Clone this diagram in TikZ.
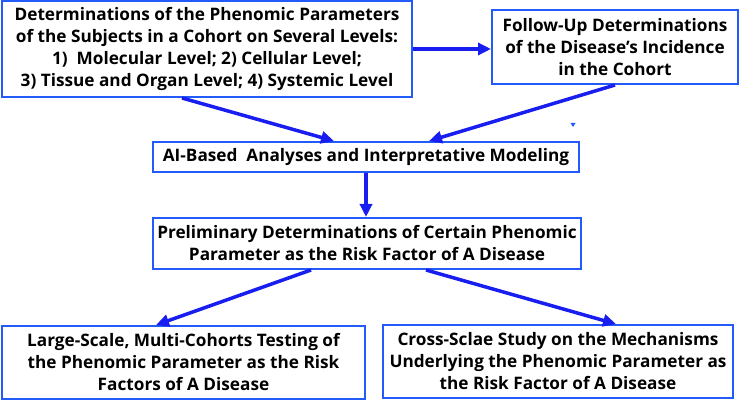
\documentclass[tikz,border=0pt]{standalone}
\usepackage{fontspec}
\setmainfont{Open Sans}
\usetikzlibrary{arrows.meta,calc}
\definecolor{boxblue}{RGB}{35,90,250}
\definecolor{arrblue}{RGB}{25,30,240}
\begin{document}
\begin{tikzpicture}[x=1pt,y=-1pt,
  box/.style={draw=boxblue,line width=2pt,fill=white,inner sep=0pt,align=center,
    font=\fontsize{17.2}{22}\selectfont\bfseries},
  arr/.style={draw=arrblue,line width=3.5pt,-{Triangle[length=13pt,width=12pt]}}]
\useasboundingbox (0,0) rectangle (740,401);
\node[box,minimum width=410pt,minimum height=96pt] (b1) at (207,49)
  {Determinations of the Phenomic Parameters\\of the Subjects in a Cohort on Several Levels:\\1)\ \ Molecular Level; 2) Cellular Level;\\3) Tissue and Organ Level; 4) Systemic Level};
\node[box,minimum width=246pt,minimum height=74pt] (b2) at (615,47)
  {Follow-Up Determinations\\of the Disease’s Incidence\\in the Cohort};
\node[box,minimum width=426pt,minimum height=30pt] (b3) at (366,157)
  {AI-Based\ \ Analyses and Interpretative Modeling};
\node[box,minimum width=428pt,minimum height=51pt] (b4) at (367,243.5)
  {Preliminary Determinations of Certain Phenomic\\Parameter as the Risk Factor of A Disease};
\node[box,minimum width=363pt,minimum height=73pt] (b5) at (183.5,362.5)
  {Large-Scale, Multi-Cohorts Testing of\\the Phenomic Parameter as the Risk\\Factors of A Disease};
\node[box,minimum width=350pt,minimum height=73pt] (b6) at (558,361.5)
  {Cross-Sclae Study on the Mechanisms\\Underlying the Phenomic Parameter as\\the Risk Factor of A Disease};
\draw[arr] (b1.east) -- (b1.east -| b2.west);
\draw[arr] ([xshift=181pt]b1.south west) -- ([xshift=182pt]b3.north west);
\draw[arr] (b2.south) -- ([xshift=277pt]b3.north west);
\draw[arr] (b3.south) -- (b3.south |- b4.north);
\draw[arr] ([xshift=159pt]b4.south west) -- ([xshift=155pt]b5.north west);
\draw[arr] ([xshift=274pt]b4.south west) -- ([xshift=234pt]b6.north west);
\fill[boxblue] (570.5,123) -- (575.5,123) -- (573,127) -- cycle;
\end{tikzpicture}
\end{document}
